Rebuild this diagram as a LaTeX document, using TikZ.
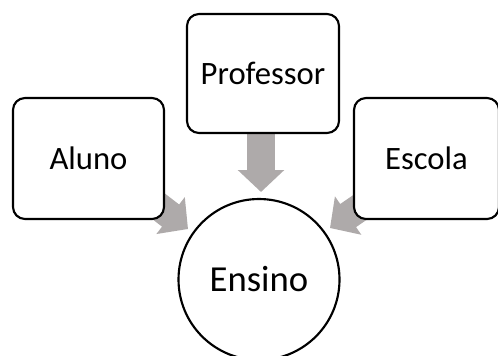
\documentclass[tikz,border=0pt]{standalone}
\usepackage{fontspec}
\setmainfont{Carlito}
\usetikzlibrary{arrows.meta}
\definecolor{arrowgray}{RGB}{174,170,170}
\begin{document}
\begin{tikzpicture}[x=0.75pt,y=-0.75pt,
  box/.style={draw=black,line width=1.6pt,rounded corners=9pt,fill=white,
    minimum width=#1,inner sep=0pt,font=\fontsize{24.5}{28}\selectfont},
  ring/.style={draw=black,line width=1.6pt,circle,fill=white,minimum size=120.75pt,
    inner sep=0pt,font=\fontsize{27.5}{32}\selectfont},
  blk/.style={draw=arrowgray,line width=21pt,
    -{Triangle[length=16.5pt,width=34pt]}}]
\useasboundingbox (0,0) rectangle (498,355);
% arrow endpoints
\coordinate (s1) at (140,192);
\coordinate (t1) at (188,229);
\coordinate (s2) at (261,110);
\coordinate (t2) at (261,192);
\coordinate (s3) at (379.5,194);
\coordinate (t3) at (330,228);
\draw[blk] (s1) -- (t1);
\draw[blk] (s2) -- (t2);
\draw[blk] (s3) -- (t3);
\node[box=113.25pt,minimum height=90.75pt] (alu) at (88.5,158.5) {Aluno};
\node[box=114pt,minimum height=89.25pt] (prof) at (263,73.5) {Professor};
\node[box=108.75pt,minimum height=90.75pt] (esc) at (426.5,158.5) {Escola};
\node[ring] (ens) at (259,279.5) {Ensino};
\end{tikzpicture}
\end{document}
